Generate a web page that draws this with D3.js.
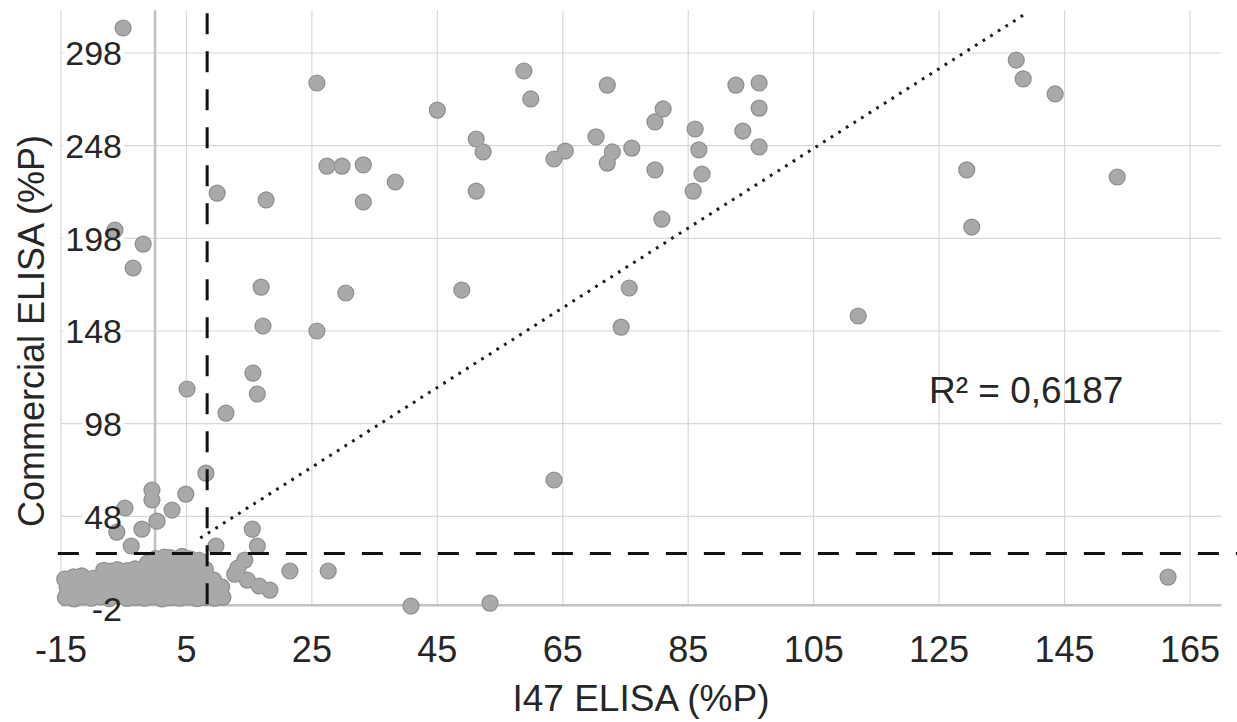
<!DOCTYPE html>
<html>
<head>
<meta charset="utf-8">
<script src="https://cdn.jsdelivr.net/npm/d3@7"></script>
<style>
  body { margin: 0; background: #fff; }
  svg { display: block; font-family: "Liberation Sans", Arial, sans-serif; }
  .grid { stroke: #d8d8d8; stroke-width: 1.2; }
  .zero { stroke: #c2c2c2; stroke-width: 2.6; }
  .tick { fill: #262626; font-size: 34px; }
  .xtick { fill: #262626; font-size: 36px; }
  .title { fill: #262626; font-size: 37px; }
  .cutoff { stroke: #111; stroke-width: 3; stroke-dasharray: 21 17; fill: none; }
  .trend { stroke: #1a1a1a; stroke-width: 3; stroke-dasharray: 2.8 6.2; fill: none; }
</style>
</head>
<body>
<svg width="1237" height="722"></svg>
<script>
const xTicks = [-15, 5, 25, 45, 65, 85, 105, 125, 145, 165]
const yTicks = [-2, 48, 98, 148, 198, 248, 298]

// I47 ELISA (%P) vs Commercial ELISA (%P)
const i47 = [
  -5.1, 25.8, 58.8, 59.9, 45.0, 72.1, 92.6, 96.3, 137.3, 138.4, 143.5, 81.0, 79.7, 96.3,
  93.7, 86.1, 70.3, 51.2, 52.3, 63.6, 65.4, 72.9, 72.1, 76.0, 86.7, 96.3, 27.4, 29.8,
  33.2, 38.3, 33.2, 9.9, 17.7, 51.2, 85.8, 79.7, 87.2, 129.4, 153.4, 80.8, 130.2, -6.4,
  -1.9, -3.5, 16.9, 30.4, 48.9, 75.6, 25.8, 17.2, 74.3, 112.1, 15.6, 5.1, 16.3, 11.3,
  8.1, 63.6, -0.5, -0.5, 4.9, -4.8, 2.7, 0.3, -2.1, -6.1, -3.8, 9.7, 15.5, 16.3,
  14.3, 13.2, 12.7, 14.7, 16.6, 18.3, 21.5, 27.6, 40.8, 53.4, 161.5,
  // dense group of low samples
  -14.3, -14.0, -14.4, -12.9, -12.6, -13.0, -11.5, -11.3, -11.7, -10.1, -10.3, -9.9,
  -8.7, -8.9, -8.5, -8.2, -7.3, -7.1, -7.5, -7.0, -5.9, -6.1, -5.7, -6.0,
  -4.5, -4.3, -4.7, -4.4, -3.1, -3.3, -2.9, -3.2, -1.7, -1.5, -1.9, -1.6, -1.2,
  -0.3, -0.1, -0.5, -0.2, 0.1, 1.1, 1.3, 0.9, 1.2, 1.5, 2.5, 2.7, 2.3, 2.6, 2.4,
  3.9, 4.1, 3.7, 4.0, 4.3, 5.3, 5.1, 5.5, 5.2, 5.6, 6.7, 6.9, 6.5, 6.8, 7.0,
  8.1, 7.9, 8.3, 8.0, 9.5, 9.7, 9.3, 10.8, 10.6
]
const commercial = [
  311.5, 281.8, 288.3, 273.2, 267.2, 280.7, 280.7, 281.8, 294.2, 284.0, 275.9, 267.8, 260.8, 268.3,
  255.9, 257.0, 252.7, 251.6, 244.6, 240.8, 245.1, 244.6, 238.6, 246.7, 245.7, 247.3, 237.0, 237.0,
  237.6, 228.4, 217.6, 222.4, 218.7, 223.5, 223.5, 234.9, 232.7, 234.9, 231.1, 208.4, 204.1, 202.5,
  194.9, 182.0, 171.7, 168.5, 170.1, 171.2, 148.0, 150.7, 150.1, 156.1, 125.3, 116.7, 114.0, 103.7,
  71.3, 67.6, 62.2, 56.8, 60.0, 52.5, 51.4, 45.4, 41.1, 39.5, 32.0, 32.0, 41.1, 32.0,
  24.4, 20.1, 16.8, 13.6, 10.4, 8.2, 18.5, 18.5, -0.4, 1.2, 15.2,
  4.2, 9.8, 14.1, 3.5, 9.0, 15.3, 4.6, 10.2, 15.9, 3.8, 8.7, 14.6,
  4.4, 9.6, 15.2, 18.9, 3.6, 8.8, 14.0, 18.4, 4.9, 10.1, 15.5, 19.3,
  3.7, 9.2, 14.3, 18.7, 4.3, 9.9, 15.1, 19.6, 3.9, 8.6, 14.8, 20.4, 22.8,
  4.6, 9.5, 15.6, 20.9, 25.2, 3.5, 10.3, 14.2, 19.8, 26.0, 4.1, 8.9, 15.0, 20.5, 25.7,
  3.8, 9.7, 14.5, 21.1, 26.4, 4.5, 9.1, 15.4, 19.9, 25.1, 3.6, 10.0, 14.9, 20.7, 24.3,
  4.2, 8.8, 14.4, 19.4, 3.9, 9.4, 13.7, 4.4, 9.9
]

const i47Cutoff = 8.3
const commercialCutoff = 28
const trendSlope = 2.15
const trendIntercept = 20.8
const trendFrom = 7.2
const trendTo = 138.7
const r2Label = "R² = 0,6187"

const data = i47.map((d, i) => { return { x: d, y: commercial[i] } })

const svg = d3.select("svg")

const xScale = d3.scaleLinear()
    .domain([-15, 165])
    .range([61, 1190])

const yScale = d3.scaleLinear()
    .domain([-2, 298])
    .range([609, 53])

const xEnd = 170
const yEnd = 321

// grid
svg.append("g")
    .selectAll("line")
    .data(xTicks)
    .enter()
    .append("line")
    .attr("class", "grid")
    .attr("x1", d => xScale(d))
    .attr("x2", d => xScale(d))
    .attr("y1", yScale(yEnd))
    .attr("y2", yScale(0))

svg.append("g")
    .selectAll("line")
    .data(yTicks.filter(d => d > 0))
    .enter()
    .append("line")
    .attr("class", "grid")
    .attr("x1", xScale(-15))
    .attr("x2", xScale(xEnd))
    .attr("y1", d => yScale(d))
    .attr("y2", d => yScale(d))

svg.append("line")
    .attr("class", "zero")
    .attr("x1", xScale(0))
    .attr("x2", xScale(0))
    .attr("y1", yScale(yEnd))
    .attr("y2", yScale(0))

svg.append("line")
    .attr("class", "zero")
    .attr("x1", xScale(-15))
    .attr("x2", xScale(xEnd))
    .attr("y1", yScale(0))
    .attr("y2", yScale(0))

// y tick labels sit on white boxes that hide the grid
const yLabelBg = svg.append("g")
const pointLayer = svg.append("g")

const yLabels = svg.append("g")
    .selectAll("text")
    .data(yTicks)
    .enter()
    .append("text")
    .attr("class", "tick")
    .attr("x", 122)
    .attr("y", d => yScale(d))
    .attr("dy", "0.36em")
    .attr("text-anchor", "end")
    .text(d => d)

yLabels.each(function(d) {
    const b = this.getBBox()
    yLabelBg.append("rect")
        .attr("x", b.x - 2)
        .attr("y", b.y + 4)
        .attr("width", b.width + 4)
        .attr("height", b.height - 8)
        .attr("fill", "#fff")
})

// points: outline layer, then fill layer so overlapping dots merge
pointLayer.selectAll("circle.outline")
    .data(data)
    .enter()
    .append("circle")
    .attr("class", "outline")
    .attr("cx", d => xScale(d.x))
    .attr("cy", d => yScale(d.y))
    .attr("r", 8.6)
    .attr("fill", "#8e8e8e")

pointLayer.selectAll("circle.dot")
    .data(data)
    .enter()
    .append("circle")
    .attr("class", "dot")
    .attr("cx", d => xScale(d.x))
    .attr("cy", d => yScale(d.y))
    .attr("r", 7.4)
    .attr("fill", "#a9a9a9")

// cut-off lines
svg.append("line")
    .attr("class", "cutoff")
    .attr("x1", xScale(i47Cutoff))
    .attr("x2", xScale(i47Cutoff))
    .attr("y1", yScale(yEnd) + 3)
    .attr("y2", yScale(0))

svg.append("line")
    .attr("class", "cutoff")
    .attr("x1", xScale(-15.5))
    .attr("x2", 1237)
    .attr("y1", yScale(commercialCutoff))
    .attr("y2", yScale(commercialCutoff))

// linear trend
const trend = d3.line()
    .x(d => xScale(d))
    .y(d => yScale(trendIntercept + trendSlope * d))

svg.append("path")
    .datum([trendFrom, trendTo])
    .attr("class", "trend")
    .attr("d", trend)

svg.append("text")
    .attr("class", "title")
    .attr("x", 929)
    .attr("y", 403)
    .text(r2Label)

// x tick labels
svg.append("g")
    .selectAll("text")
    .data(xTicks)
    .enter()
    .append("text")
    .attr("class", "xtick")
    .attr("x", d => xScale(d))
    .attr("y", 662)
    .attr("text-anchor", "middle")
    .text(d => d)

svg.append("text")
    .attr("class", "title")
    .attr("x", 641)
    .attr("y", 711)
    .attr("text-anchor", "middle")
    .text("I47 ELISA (%P)")

svg.append("text")
    .attr("class", "title")
    .attr("transform", "translate(44, 331) rotate(-90)")
    .attr("text-anchor", "middle")
    .style("font-size", "36px")
    .text("Commercial ELISA (%P)")
</script>
</body>
</html>
